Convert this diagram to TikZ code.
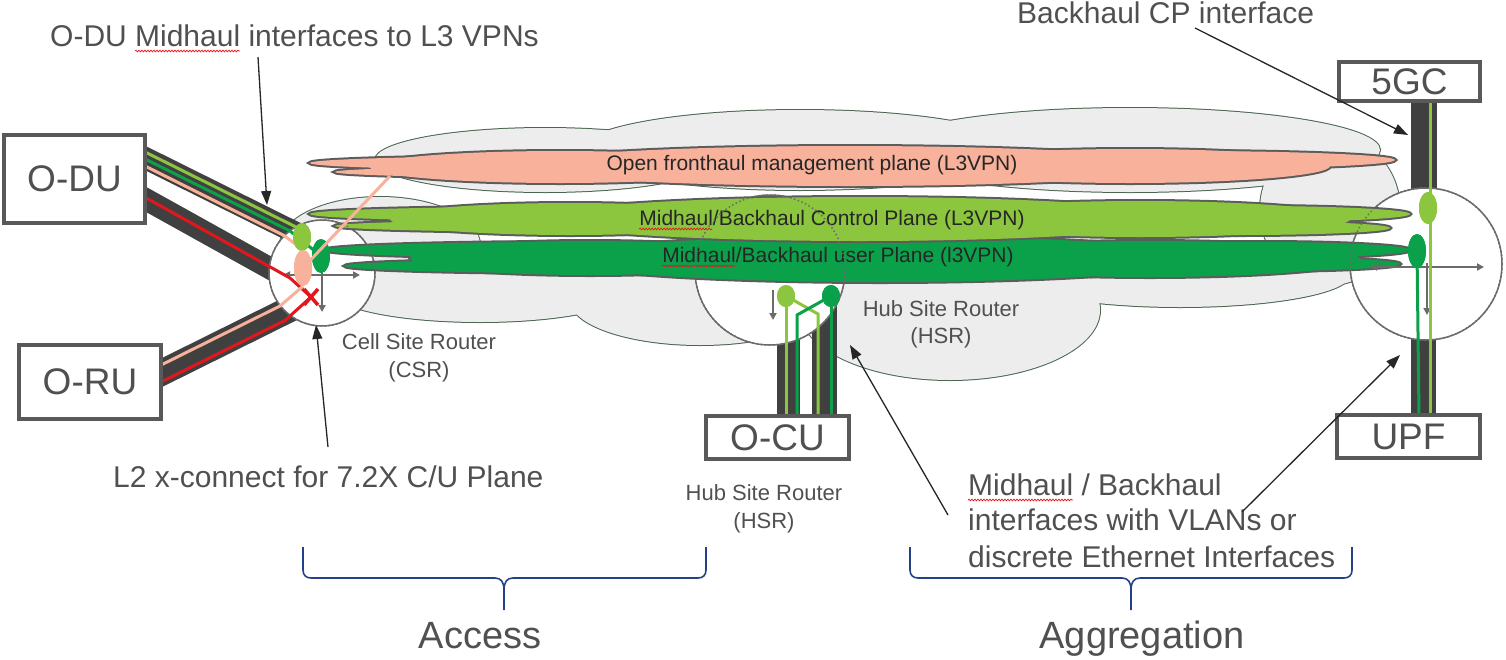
\documentclass[tikz,border=0pt]{standalone}
\usepackage{fontspec}
\setmainfont{Liberation Sans}
\usetikzlibrary{arrows.meta,shapes.geometric,calc,decorations.pathmorphing}
\definecolor{boxgray}{HTML}{595959}
\definecolor{txtgray}{HTML}{505050}
\definecolor{bargray}{HTML}{404040}
\definecolor{salm}{HTML}{F8B29B}
\definecolor{lgr}{HTML}{8CC63F}
\definecolor{dgr}{HTML}{0BA14B}
\definecolor{cloudfill}{HTML}{EDEDED}
\definecolor{cloudline}{HTML}{4A6650}
\definecolor{cline}{HTML}{5C5C5C}
\definecolor{xred}{HTML}{E3161D}
\definecolor{navy}{HTML}{23418A}
\definecolor{rgray}{HTML}{6B6B6B}
\newcommand\fsz[2]{\fontsize{#1}{#2}\selectfont}
\newcommand\cloudunion[3]{%
  \foreach \cx/\cy/\rx/\ry in {#3} {\draw[#2, fill=#1] (\cx,\cy) ellipse [x radius=\rx pt, y radius=\ry pt];}
  \foreach \cx/\cy/\rx/\ry in {#3} {\fill[#1] (\cx,\cy) ellipse [x radius=\rx pt, y radius=\ry pt];}
}
\begin{document}
\begin{tikzpicture}[x=1pt,y=-1pt,
  box/.style={draw=boxgray, line width=4pt, fill=white, inner sep=0pt, text=txtgray, font=\fsz{37}{44}},
  band/.style={draw=bargray, line width=22pt},
  bar/.style={draw=bargray, line width=24pt},
  router/.style={circle, draw=rgray, line width=1.5pt, fill=white, inner sep=0pt},
  rdots/.style={draw=rgray, line width=1.5pt, dash pattern=on 1.5pt off 2.5pt},
  port/.style={ellipse, inner sep=0pt, draw=none},
  lgline/.style={draw=lgr, line width=3pt},
  dgline/.style={draw=dgr, line width=3pt},
  saline/.style={draw=salm, line width=3pt},
  redline/.style={draw=xred, line width=3pt},
  rarrow/.style={draw=rgray, line width=2pt, -{Triangle[length=7pt,width=7pt]}},
  rdarrow/.style={draw=rgray, line width=2pt, {Triangle[length=7pt,width=7pt]}-{Triangle[length=7pt,width=7pt]}},
  lbl/.style={draw=black!85, line width=1.3pt, -{Triangle[length=14pt,width=10pt]}},
  note/.style={text=txtgray, inner sep=0pt, font=\fsz{30}{36}},
  small/.style={text=txtgray, inner sep=0pt, font=\fsz{22}{26}},
  vpn/.style={text=black!85, inner sep=0pt, font=\fsz{21}{25}},
  brace/.style={draw=navy, line width=1.6pt},
  cloudedge/.style={draw=cloudline, line width=2pt},
  vpnedge/.style={draw=cline, line width=4pt},
  squig/.style={draw=xred, line width=0.7pt, decorate, decoration={snake, segment length=3pt, amplitude=0.9pt}}
]
\useasboundingbox (0,0) rectangle (1506,659);

% grey background cloud
\cloudunion{cloudfill}{cloudedge}{545/160/170/32, 800/150/220/40, 1130/150/250/42, 1330/210/70/75, 380/245/100/48, 480/290/150/32, 700/300/130/45, 950/310/150/70, 1180/275/170/32}

% bands and bars
\draw[band] (130,150.5) -- (300,235);
\draw[band] (130,190.5) -- (282,275);
\draw[band, line width=26pt] (150,378.5) -- (292,308);
\draw[bar, line width=23pt] (788.5,300) -- (788.5,420);
\draw[bar, line width=25pt] (824.5,300) -- (824.5,420);
\draw[bar, line width=26pt] (1424,95) -- (1424,200);
\draw[bar, line width=25pt] (1423.5,330) -- (1423.5,420);

% routers
\node[router, minimum size=106pt] (csr) at (322,273) {};
\node[router, minimum size=150pt] (hsr) at (770,270) {};
\node[router, minimum size=152pt] (agg) at (1426,264) {};

% VPN clouds
\cloudunion{salm}{vpnedge}{560/163/250/7, 600/172/265/6, 560/167/190/16, 850/166/330/20, 1130/166/200/17, 1180/160/215/9, 1100/171/120/9}
\cloudunion{dgr}{vpnedge}{580/250/255/8, 600/266/255/7, 590/258/180/17, 880/259/320/23, 1150/259/210/18, 1260/250/150/8, 1250/264/150/7}
\cloudunion{lgr}{vpnedge}{540/214/230/7, 590/226/255/6, 570/219/180/16, 860/219/320/22, 1140/219/210/18, 1250/214/160/8, 1240/228/150/7}

\node[vpn, anchor=base] (tmgmt) at (812,170) {Open fronthaul management plane (L3VPN)};
\node[vpn, anchor=base] (tcp) at (832,225) {Midhaul/Backhaul Control Plane (L3VPN)};
\node[vpn, anchor=base] (tup) at (838,262) {Midhaul/Backhaul user Plane (l3VPN)};
\draw[squig] ($(tcp.base west)+(0,4)$) -- ($(tcp.base west)+(73,4)$);
\draw[squig] ($(tup.base west)+(0,4)$) -- ($(tup.base west)+(73,4)$);

% dotted router outlines over clouds
\draw[rdots] (csr.center) circle (53pt);
\draw[rdots] (hsr.center) circle (75pt);
\draw[rdots] (agg.center) circle (76pt);

% router internal arrows
\draw[rdarrow] (283,275) -- (360,275);
\draw[rarrow] (322,265) -- (322,312);
\draw[rarrow] (773,290) -- (773,320);
\draw[rdarrow] (1370,267) -- (1484,267);
\draw[rarrow] (1427,263) -- (1427,315);

% CSR ports
\node[port, fill=lgr, minimum width=18pt, minimum height=28pt] (csrlg) at (302,237) {};
\node[port, fill=dgr, minimum width=18pt, minimum height=34pt] (csrdg) at (321,256) {};
\node[port, fill=salm, minimum width=18pt, minimum height=36pt] (csrsa) at (303,268) {};
\coordinate (xmark) at (311,297);
\coordinate (mgmtpt) at (390,176);

\draw[lgline] (140,149.5) -- (298,228) -- (csrlg.center);
\draw[dgline] (140,156.5) -- (290,231) -- (csrdg.center);
\draw[saline] (140,163.5) -- (284,235.5) -- (csrsa.north);
\draw[redline] (140,194.5) -- (290,278) -- (xmark);
\draw[saline] (150,370.5) -- (280,306) -- (csrsa.south);
\draw[redline] (150,387.5) -- (285,320.5) -- (xmark);
\node[port, fill=lgr, minimum width=18pt, minimum height=28pt] at (csrlg) {};
\node[port, fill=dgr, minimum width=18pt, minimum height=34pt] at (csrdg) {};
\node[port, fill=salm, minimum width=18pt, minimum height=36pt] at (csrsa) {};
\draw[saline] (csrsa.center) -- (mgmtpt);
\draw[xred, line width=3.5pt] ($(xmark)+(-7,-8)$) -- ($(xmark)+(7,8)$) ($(xmark)+(7,-8)$) -- ($(xmark)+(-7,8)$);

% HSR ports
\node[port, fill=lgr, minimum width=18pt, minimum height=22pt] (hlg) at (786,296) {};
\node[port, fill=dgr, minimum width=18pt, minimum height=22pt] (hdg) at (831,296) {};
\draw[lgline] (hlg.south) -- (786,416);
\draw[lgline] (hlg.center) -- (818,314) -- (818,416);
\draw[dgline] (hdg.south) -- (831,416);
\draw[dgline] (hdg.center) -- (797,315) -- (797,416);
\node[port, fill=lgr, minimum width=18pt, minimum height=22pt] at (hlg) {};
\node[port, fill=dgr, minimum width=18pt, minimum height=22pt] at (hdg) {};

% aggregation router ports
\node[port, fill=lgr, minimum width=18pt, minimum height=32pt] (rlg) at (1428,208) {};
\node[port, fill=dgr, minimum width=18pt, minimum height=34pt] (rdg) at (1417,251) {};
\draw[lgline] (1430,100) -- (1430,416);
\draw[dgline] (rdg.center) -- (1419,416);
\node[port, fill=lgr, minimum width=18pt, minimum height=32pt] at (rlg) {};
\node[port, fill=dgr, minimum width=18pt, minimum height=34pt] at (rdg) {};

% boxes
\node[box, minimum width=141pt, minimum height=88pt] (odu) at (74.5,179) {O-DU};
\node[box, minimum width=142pt, minimum height=74pt] (oru) at (90,382) {O-RU};
\node[box, minimum width=143pt, minimum height=43pt] (ocu) at (777.5,437.5) {O-CU};
\node[box, minimum width=141pt, minimum height=39pt] (fgc) at (1409.5,81.5) {5GC};
\node[box, minimum width=143pt, minimum height=43pt] (upf) at (1408.5,436.5) {UPF};

% labels
\node[note, anchor=base west] (t1) at (50,46) {O-DU Midhaul interfaces to L3 VPNs};
\draw[squig] ($(t1.base west)+(85,5)$) -- ($(t1.base west)+(190,5)$);
\node[note, anchor=base west] (t2) at (1017,23) {Backhaul CP interface};
\node[note, anchor=base west] (t3) at (113,487) {L2 x-connect for 7.2X C/U Plane};
\node[small, anchor=base] (csr1) at (419,349) {Cell Site Router};
\node[small, anchor=base] (csr2) at (419,377) {(CSR)};
\node[small, anchor=base] (hsr1) at (941,316) {Hub Site Router};
\node[small, anchor=base] (hsr2) at (941,343) {(HSR)};
\node[small, anchor=base] (hsr3) at (764,500) {Hub Site Router};
\node[small, anchor=base] (hsr4) at (764,528) {(HSR)};
\node[note, anchor=base west] (t7a) at (968,495) {Midhaul / Backhaul};
\draw[squig] ($(t7a.base west)+(0,5)$) -- ($(t7a.base west)+(105,5)$);
\node[note, anchor=base west] (t7b) at (968,530) {interfaces with VLANs or};
\node[note, anchor=base west] (t7c) at (968,567) {discrete Ethernet Interfaces};
\node[note, anchor=base, font=\fsz{38}{44}] (acc) at (480,648) {Access};
\node[note, anchor=base, font=\fsz{38}{44}] (agr) at (1142,648) {Aggregation};

% label arrows
\coordinate (a1s) at (258,57);   \coordinate (a1e) at (267,205);
\coordinate (a2s) at (1195,28);  \coordinate (a2e) at (1408,135);
\coordinate (a3s) at (328,447);  \coordinate (a3e) at (316,325);
\coordinate (a4s) at (948,515);  \coordinate (a4e) at (850,345);
\coordinate (a5s) at (1242,512); \coordinate (a5e) at (1400,355);
\draw[lbl] (a1s) -- (a1e);
\draw[lbl] (a2s) -- (a2e);
\draw[lbl] (a3s) -- (a3e);
\draw[lbl] (a4s) -- (a4e);
\draw[lbl] (a5s) -- (a5e);

% braces
\draw[brace] (303,547) -- (303,570) .. controls (303,575) and (306,578) .. (311,578) -- (495,578) .. controls (501,578) and (504,582) .. (504,590) -- (504,610);
\draw[brace] (706,547) -- (706,570) .. controls (706,575) and (703,578) .. (698,578) -- (513,578) .. controls (507,578) and (504,582) .. (504,590);
\draw[brace] (910,547) -- (910,570) .. controls (910,575) and (913,578) .. (918,578) -- (1122,578) .. controls (1128,578) and (1131,582) .. (1131,590) -- (1131,610);
\draw[brace] (1352,547) -- (1352,570) .. controls (1352,575) and (1349,578) .. (1344,578) -- (1140,578) .. controls (1134,578) and (1131,582) .. (1131,590);
\end{tikzpicture}
\end{document}
